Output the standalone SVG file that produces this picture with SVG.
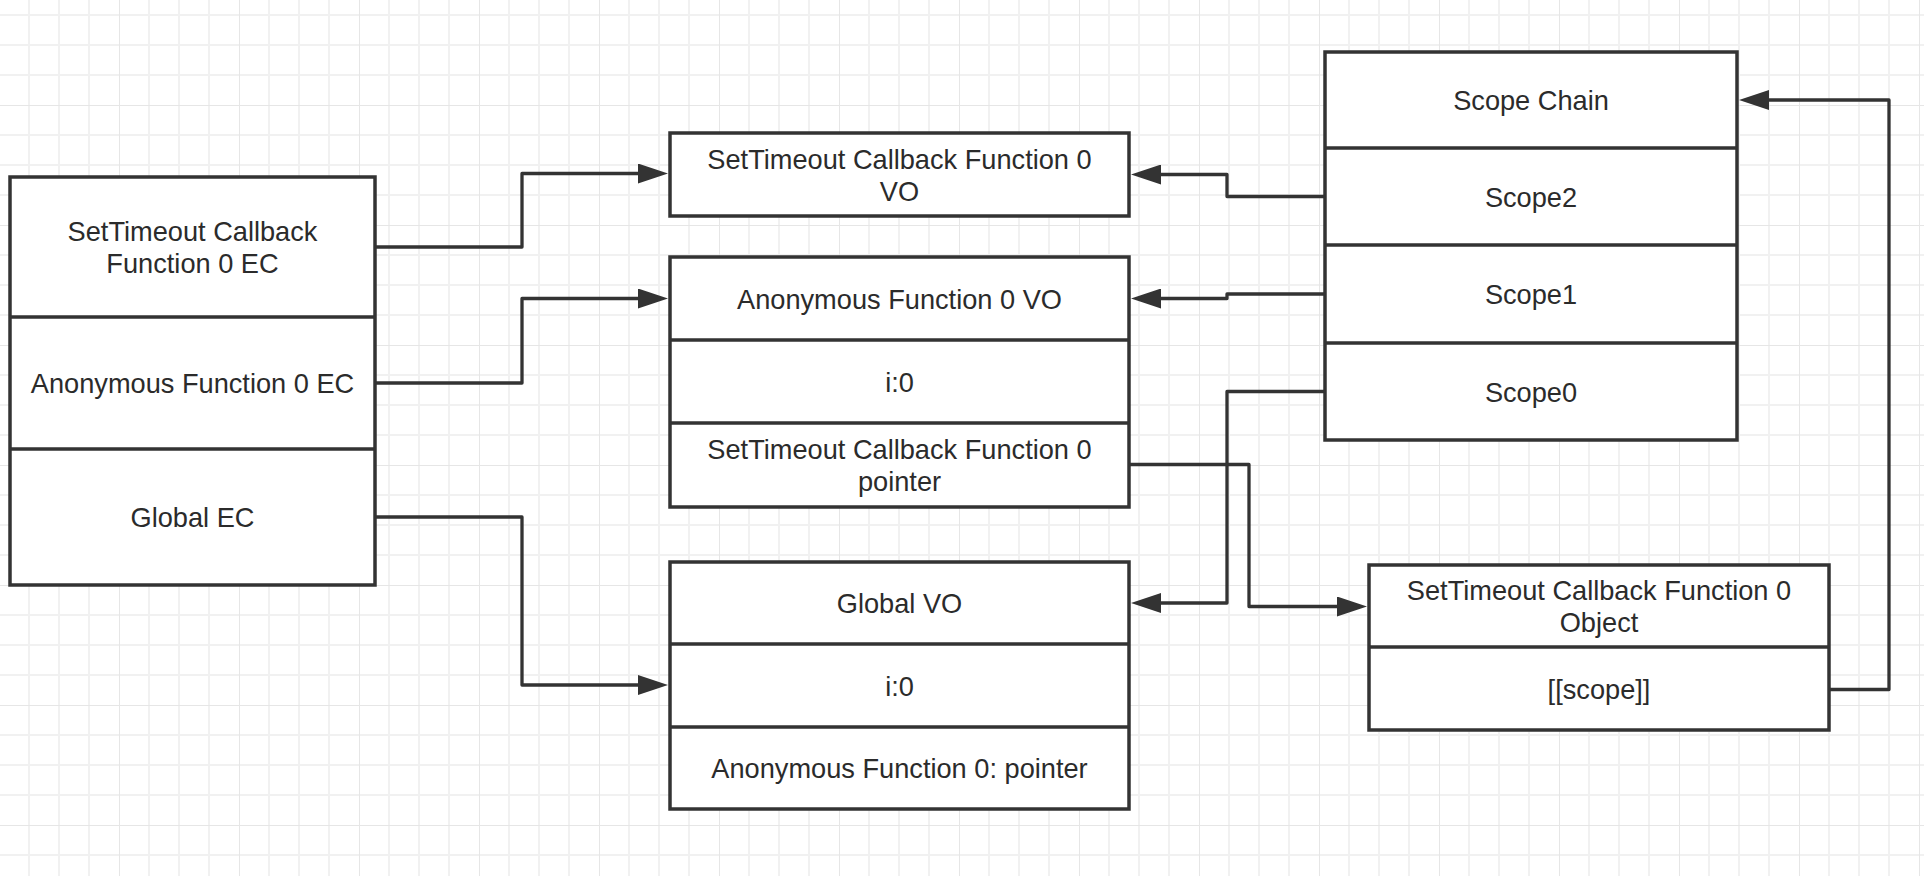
<svg xmlns="http://www.w3.org/2000/svg" width="1924" height="876" viewBox="0 0 1924 876">
<defs>
<pattern id="grid" patternUnits="userSpaceOnUse" x="-1" y="-15" width="120" height="120">
<path d="M30,0V120M60,0V120M90,0V120M0,30H120M0,60H120M0,90H120" stroke="#f1f1f1" stroke-width="2" fill="none"/>
<path d="M0,0V120M0,0H120" stroke="#e6e6e6" stroke-width="2" fill="none"/>
</pattern>
<marker id="arr" markerUnits="userSpaceOnUse" viewBox="0 0 30 20" markerWidth="30" markerHeight="20" refX="1" refY="10" orient="auto">
<path d="M0,0L30,10L0,20z" fill="#333"/>
</marker>
</defs>
<style>
.box{fill:#fff;stroke:#333;stroke-width:3.5}
.div{stroke:#333;stroke-width:3.5;fill:none}
.t{font-family:"Liberation Sans",Arial,sans-serif;font-size:27.2px;fill:#2b2b2b;text-anchor:middle}
.c{fill:none;stroke:#333;stroke-width:3.3;stroke-linejoin:round;marker-end:url(#arr)}
</style>
<rect width="1924" height="876" fill="#fff"/>
<rect width="1924" height="876" fill="url(#grid)"/>

<g id="ec-stack">
<rect class="box" x="10" y="177" width="365" height="408"/>
<path class="div" d="M10,317H375M10,449H375"/>
<text class="t" x="192.5" y="241">SetTimeout Callback</text>
<text class="t" x="192.5" y="273">Function 0 EC</text>
<text class="t" x="192.5" y="393">Anonymous Function 0 EC</text>
<text class="t" x="192.5" y="527">Global EC</text>
</g>

<g id="settimeout-vo">
<rect class="box" x="670" y="133" width="459" height="83"/>
<text class="t" x="899.5" y="168.5">SetTimeout Callback Function 0</text>
<text class="t" x="899.5" y="200.5">VO</text>
</g>

<g id="anonymous-vo">
<rect class="box" x="670" y="257" width="459" height="250"/>
<path class="div" d="M670,340H1129M670,423H1129"/>
<text class="t" x="899.5" y="308.5">Anonymous Function 0 VO</text>
<text class="t" x="899.5" y="391.5">i:0</text>
<text class="t" x="899.5" y="459">SetTimeout Callback Function 0</text>
<text class="t" x="899.5" y="491">pointer</text>
</g>

<g id="global-vo">
<rect class="box" x="670" y="562" width="459" height="247"/>
<path class="div" d="M670,644H1129M670,727H1129"/>
<text class="t" x="899.5" y="613">Global VO</text>
<text class="t" x="899.5" y="695.5">i:0</text>
<text class="t" x="899.5" y="778">Anonymous Function 0: pointer</text>
</g>

<g id="scope-chain">
<rect class="box" x="1325" y="52" width="412" height="388"/>
<path class="div" d="M1325,148H1737M1325,245H1737M1325,343H1737"/>
<text class="t" x="1531" y="110">Scope Chain</text>
<text class="t" x="1531" y="206.5">Scope2</text>
<text class="t" x="1531" y="304">Scope1</text>
<text class="t" x="1531" y="401.5">Scope0</text>
</g>

<g id="settimeout-object">
<rect class="box" x="1369" y="565" width="460" height="165"/>
<path class="div" d="M1369,647H1829"/>
<text class="t" x="1599" y="600">SetTimeout Callback Function 0</text>
<text class="t" x="1599" y="632">Object</text>
<text class="t" x="1599" y="698.5">[[scope]]</text>
</g>

<g id="connectors">
<path class="c" d="M375,247H522V173.5H639"/>
<path class="c" d="M375,383H522V298.5H639"/>
<path class="c" d="M375,517H522V685H639"/>
<path class="c" d="M1325,196.5H1227V174.5H1160"/>
<path class="c" d="M1325,294H1227V298.5H1160"/>
<path class="c" d="M1325,391.5H1227V603H1160"/>
<path class="c" d="M1129,464.5H1249V606.5H1338"/>
<path class="c" d="M1829,689.5H1889V100H1768"/>
</g>
</svg>
